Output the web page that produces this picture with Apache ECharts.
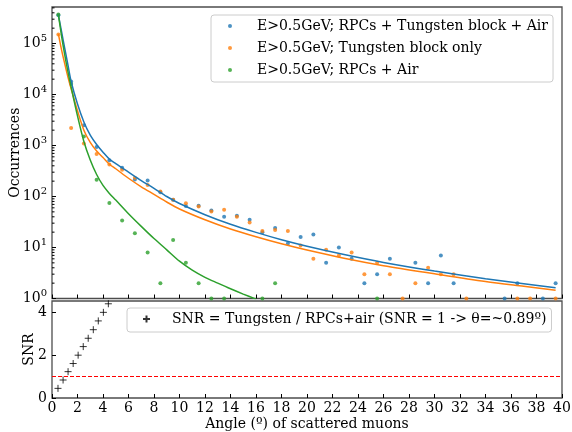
<!DOCTYPE html>
<html lang="en">
<head>
<meta charset="UTF-8">
<title>Scattered muons</title>
<script src="https://cdn.jsdelivr.net/npm/echarts@6/dist/echarts.min.js"></script>
<style>
    html, body { margin: 0; padding: 0; background: #fff; }
    #main { width: 572px; height: 432px; }
</style>
</head>
<body>
<div id="main"></div>
<script>
    // bin centres, degrees
    var binCentres = [0.5, 1.5, 2.5, 3.5, 4.5, 5.5, 6.5, 7.5, 8.5, 9.5,
        10.5, 11.5, 12.5, 13.5, 14.5, 15.5, 16.5, 17.5, 18.5, 19.5,
        20.5, 21.5, 22.5, 23.5, 24.5, 25.5, 26.5, 27.5, 28.5, 29.5,
        30.5, 31.5, 32.5, 33.5, 34.5, 35.5, 36.5, 37.5, 38.5, 39.5];

    // occurrences per bin (null = empty bin)
    var rpcTungAir = [360000, 18000, 2500, 930, 515, 365, 215, 205, 121, 86,
        65, 66, 53, 40, 42, 35, 20, 24, 12, 16,
        18, 5, 10, 6, 2, 3, 6, null, 5, 2,
        7, 2, null, null, null, 1, 2, null, 1, 2];
    var tungOnly = [150000, 2200, 1100, 680, 425, 333, 233, 169, 125, 86,
        74, 64, 51, 55, 40, 31, 21, 22, 21, 11,
        6, 9, 7, 8, 3, 5, 3, 1, 2, 4,
        3, 3, 1, null, null, null, 1, 1, null, 1];
    var rpcAir = [370000, 16000, 1500, 213, 75, 34, 19, 8, 2, 14,
        5, 2, 1, 1, null, null, 1, 2, null, null,
        null, null, null, null, null, 1, null, null, null, null,
        null, null, null, null, null, null, null, null, null, null];

    // fitted curves
    var fitX = [0.5, 0.75, 1, 1.25, 1.5, 2, 2.5, 3, 3.5, 4, 4.5, 5, 6, 7, 8, 9, 10,
        12, 14, 16, 18, 20, 23, 26, 30, 34, 37, 39.5];
    var fitRpcTungAir = [370000, 170000, 80000, 38000, 18000, 6500, 2900, 1600, 1050, 740, 540, 440,
        300, 205, 145, 100, 73, 44, 28.5, 19.8, 14.2, 10.6, 7.2, 5.1, 3.45, 2.45, 1.95, 1.62];
    var fitTungOnly = [155000, 75000, 40000, 22000, 13000, 4800, 2000, 1150, 780, 580, 430, 350,
        228, 155, 110, 78, 57, 35, 23, 16.2, 11.8, 8.9, 6.1, 4.4, 3.05, 2.15, 1.73, 1.45];
    var fitAirX = [0.5, 0.75, 1, 1.25, 1.5, 2, 2.5, 3, 3.5, 4, 4.5, 5, 6, 7, 8, 9, 10,
        11, 12, 13, 14, 15, 16];
    var fitRpcAir = [370000, 140000, 60000, 28000, 14000, 3800, 1200, 520, 270, 165, 115, 85,
        46, 26, 15, 9, 5.4, 3.6, 2.6, 2.0, 1.55, 1.22, 0.97];

    // SNR panel
    var snrX = [0.47, 0.87, 1.26, 1.66, 2.05, 2.45, 2.84, 3.24, 3.63, 4.03, 4.42];
    var snrY = [0.45, 0.84, 1.23, 1.61, 2.0, 2.4, 2.79, 3.19, 3.6, 4.0, 4.4];

    // log axis minor ticks
    var minorTicks = [2, 3, 4, 5, 6, 7, 8, 9, 20, 30, 40, 50, 60, 70, 80, 90,
        200, 300, 400, 500, 600, 700, 800, 900, 2000, 3000, 4000, 5000, 6000, 7000, 8000, 9000,
        20000, 30000, 40000, 50000, 60000, 70000, 80000, 90000, 200000, 300000, 400000, 500000];

    var FONT = 'DejaVu Serif';
    var BLUE = '#1f77b4', ORANGE = '#ff7f0e', GREEN = '#2ca02c';

    function pairs(xs, ys) {
        var out = [];
        for (var i = 0; i < xs.length; i++) {
            if (ys[i] != null) out.push([xs[i], ys[i]]);
        }
        return out;
    }

    var supTxt = { base: { fontFamily: FONT, fontSize: 14, color: '#000' },
                   sup: { fontFamily: FONT, fontSize: 10, color: '#000', padding: [0, 0, 11, 0] } };

    var myChart = echarts.init(document.getElementById('main'));
    var option = {
        animation: false,
        grid: [
            { left: 52, right: 10, top: 7, height: 291.5, outerBoundsMode: 'none', show: true, borderColor: '#4d4d4d', borderWidth: 1.3, backgroundColor: '#fff' },
            { left: 52, right: 10, top: 301, height: 97, outerBoundsMode: 'none', show: true, borderColor: '#4d4d4d', borderWidth: 1.3, backgroundColor: '#fff' }
        ],
        legend: [
            {
                data: ['E>0.5GeV; RPCs + Tungsten block + Air', 'E>0.5GeV; Tungsten block only', 'E>0.5GeV; RPCs + Air'],
                orient: 'vertical', left: 211, top: 15,
                icon: 'circle', itemWidth: 4, itemHeight: 4, itemGap: 6,
                padding: [3, 5, 4, 17],
                borderColor: '#ccc', borderWidth: 1, borderRadius: 3, backgroundColor: 'rgba(255,255,255,0.8)',
                textStyle: { fontFamily: FONT, fontSize: 14, color: '#000', lineHeight: 16, padding: [0, 0, 0, 20] }
            },
            {
                data: ['SNR = Tungsten / RPCs+air (SNR = 1 -> θ=~0.89º)'],
                left: 127, top: 308,
                itemWidth: 7, itemHeight: 7,
                padding: [3, 5, 5, 15],
                borderColor: '#ccc', borderWidth: 1, borderRadius: 3, backgroundColor: 'rgba(255,255,255,0.8)',
                textStyle: { fontFamily: FONT, fontSize: 14, color: '#000', lineHeight: 16, padding: [0, 0, 0, 17] }
            }
        ],
        xAxis: [
            {
                gridIndex: 0, type: 'value', min: 0, max: 40, interval: 2,
                axisLine: { show: false }, splitLine: { show: false },
                axisTick: { inside: true, length: 4, lineStyle: { color: '#000' } },
                axisLabel: { show: false }
            },
            {
                gridIndex: 1, type: 'value', min: 0, max: 40, interval: 2,
                axisLine: { show: false }, splitLine: { show: false },
                axisTick: { inside: true, length: 4, lineStyle: { color: '#000' } },
                axisLabel: { fontFamily: FONT, fontSize: 14, color: '#000', margin: 3 },
                name: 'Angle (º) of scattered muons', nameLocation: 'middle', nameGap: 19,
                nameTextStyle: { fontFamily: FONT, fontSize: 14, color: '#000' }
            }
        ],
        yAxis: [
            {
                gridIndex: 0, type: 'log', logBase: 10, min: 1, max: 520000, splitNumber: 6,
                axisLine: { show: false }, splitLine: { show: false },
                axisTick: { inside: true, length: 4, lineStyle: { color: '#000' } },
                axisLabel: {
                    margin: 5, showMaxLabel: false,
                    formatter: function (v) {
                        var e = Math.round(Math.log10(v));
                        if (Math.abs(Math.pow(10, e) - v) > 1e-6 * v) return '';
                        return '{base|10}{sup|' + e + '}';
                    },
                    rich: supTxt
                },
                name: 'Occurrences', nameLocation: 'middle', nameGap: 30, nameMoveOverlap: false,
                nameTextStyle: { fontFamily: FONT, fontSize: 14, color: '#000' }
            },
            {
                gridIndex: 1, type: 'value', min: 0, max: 4.53, interval: 2,
                axisLine: { show: false }, splitLine: { show: false },
                axisTick: { inside: true, length: 4, lineStyle: { color: '#000' } },
                axisLabel: { fontFamily: FONT, fontSize: 14, color: '#000', margin: 5, showMaxLabel: false },
                name: 'SNR', nameLocation: 'middle', nameGap: 16, nameMoveOverlap: false,
                nameTextStyle: { fontFamily: FONT, fontSize: 14, color: '#000' }
            }
        ],
        series: [
            {
                name: 'minor', type: 'custom', xAxisIndex: 0, yAxisIndex: 0, silent: true, z: 5,
                data: minorTicks.map(function (v) { return [0, v]; }),
                renderItem: function (params, api) {
                    var p = api.coord([0, api.value(1)]);
                    return { type: 'line', shape: { x1: p[0], y1: p[1], x2: p[0] + 2.5, y2: p[1] },
                             style: { stroke: '#000', lineWidth: 1 } };
                }
            },
            {
                name: 'fit1', type: 'line', xAxisIndex: 0, yAxisIndex: 0, data: pairs(fitX, fitRpcTungAir),
                showSymbol: false, smooth: 0.3, lineStyle: { color: BLUE, width: 1.5 }, silent: true
            },
            {
                name: 'fit2', type: 'line', xAxisIndex: 0, yAxisIndex: 0, data: pairs(fitX, fitTungOnly),
                showSymbol: false, smooth: 0.3, lineStyle: { color: ORANGE, width: 1.5 }, silent: true
            },
            {
                name: 'fit3', type: 'line', xAxisIndex: 0, yAxisIndex: 0, data: pairs(fitAirX, fitRpcAir),
                showSymbol: false, smooth: 0.3, lineStyle: { color: GREEN, width: 1.5 }, silent: true
            },
            {
                name: 'E>0.5GeV; RPCs + Tungsten block + Air', type: 'scatter', xAxisIndex: 0, yAxisIndex: 0,
                data: pairs(binCentres, rpcTungAir), symbolSize: 4, itemStyle: { color: BLUE }
            },
            {
                name: 'E>0.5GeV; Tungsten block only', type: 'scatter', xAxisIndex: 0, yAxisIndex: 0,
                data: pairs(binCentres, tungOnly), symbolSize: 4, itemStyle: { color: ORANGE }
            },
            {
                name: 'E>0.5GeV; RPCs + Air', type: 'scatter', xAxisIndex: 0, yAxisIndex: 0,
                data: pairs(binCentres, rpcAir), symbolSize: 4, itemStyle: { color: GREEN }
            },
            {
                name: 'SNR = Tungsten / RPCs+air (SNR = 1 -> θ=~0.89º)', type: 'scatter', xAxisIndex: 1, yAxisIndex: 1,
                data: pairs(snrX, snrY),
                symbol: 'path://M0,5L10,5M5,0L5,10', symbolSize: 7,
                itemStyle: { color: 'rgba(0,0,0,0)', borderColor: '#000', borderWidth: 1 },
                markLine: {
                    silent: true, symbol: 'none', label: { show: false },
                    lineStyle: { color: '#ff0000', type: [4, 2], width: 1 },
                    data: [{ yAxis: 1 }]
                }
            }
        ]
    };
    option && myChart.setOption(option);
</script>
</body>
</html>
